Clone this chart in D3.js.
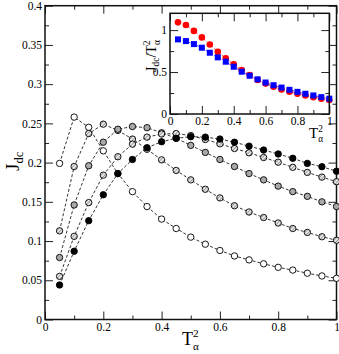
<!DOCTYPE html>
<html>
<head>
<meta charset="utf-8">
<script src="https://cdn.jsdelivr.net/npm/d3@7"></script>
<style>
  body { margin: 0; background: #fff; }
  svg text { font-family: "Liberation Serif", "Times New Roman", serif; fill: #000; }
</style>
</head>
<body>
<svg id="chart"></svg>
<script>
// T_alpha^2 values shared by every series
var t2 = [0.05, 0.1, 0.15, 0.2, 0.25, 0.3, 0.35, 0.4, 0.45, 0.5, 0.55, 0.6, 0.65, 0.7, 0.75, 0.8, 0.85, 0.9, 0.95, 1];

// main panel, J_dc
var jdcOpen  = [0.199, 0.258, 0.245, 0.215, 0.186, 0.163, 0.144, 0.128, 0.116, 0.105, 0.096, 0.088, 0.081, 0.076, 0.071, 0.0665, 0.063, 0.059, 0.0555, 0.0525];
var jdcLight = [0.113, 0.195, 0.237, 0.249, 0.241, 0.230, 0.217, 0.2035, 0.190, 0.178, 0.166, 0.155, 0.145, 0.137, 0.130, 0.123, 0.116, 0.111, 0.1055, 0.101];
var jdcGrey  = [0.079, 0.146, 0.196, 0.226, 0.2425, 0.246, 0.2445, 0.238, 0.231, 0.222, 0.213, 0.204, 0.195, 0.186, 0.178, 0.170, 0.163, 0.157, 0.150, 0.144];
var jdcHatch = [0.055, 0.106, 0.149, 0.184, 0.2075, 0.2235, 0.2325, 0.2365, 0.237, 0.2345, 0.2295, 0.224, 0.218, 0.2125, 0.2065, 0.2005, 0.194, 0.1875, 0.1815, 0.1757];
var jdcBlack = [0.044, 0.087, 0.126, 0.159, 0.186, 0.204, 0.219, 0.2266, 0.231, 0.233, 0.2325, 0.230, 0.226, 0.221, 0.216, 0.211, 0.2055, 0.199, 0.1948, 0.189];

// inset, J_dc / T_alpha^2
var ratioRed  = [1.092, 1.06, 0.99, 0.913, 0.829, 0.742, 0.663, 0.591, 0.524, 0.464, 0.405, 0.362, 0.325, 0.293, 0.266, 0.242, 0.220, 0.200, 0.182, 0.167];
var ratioBlue = [0.889, 0.869, 0.833, 0.790, 0.730, 0.675, 0.623, 0.563, 0.504, 0.456, 0.413, 0.375, 0.343, 0.315, 0.288, 0.264, 0.241, 0.221, 0.201, 0.183];

// tick labels
var mainXTicks  = [0, 0.2, 0.4, 0.6, 0.8, 1];
var mainYTicks  = [0, 0.05, 0.1, 0.15, 0.2, 0.25, 0.3, 0.35, 0.4];
var insetXTicks = [0, 0.2, 0.4, 0.6, 0.8, 1];
var insetYTicks = [0, 0.5, 1];

var W = 339, H = 354;
var svg = d3.select('#chart').attr('width', W).attr('height', H);

// hatch fill for the patterned markers
var defs = svg.append('defs');
var hatch = defs.append('pattern')
  .attr('id', 'hatch')
  .attr('patternUnits', 'userSpaceOnUse')
  .attr('width', 2.6).attr('height', 2.6)
  .attr('patternTransform', 'rotate(45)');
hatch.append('rect').attr('width', 2.6).attr('height', 2.6).attr('fill', '#e8e8e8');
hatch.append('line').attr('x1', 0).attr('y1', 0).attr('x2', 0).attr('y2', 2.6)
  .attr('stroke', '#666').attr('stroke-width', 1.1);

/**
 * frame with inward ticks on all four sides
 */
var drawFrame = (g, x, y, opt) => {
  var [x0, x1] = x.range();
  var [y0, y1] = y.range();
  var fmt = d => String(d);
  var strip = s => s.select('.domain').remove();

  g.append('g').attr('transform', `translate(0,${ y0 })`)
    .call(d3.axisBottom(x).tickValues(opt.xTicks).tickSize(-opt.major).tickPadding(3).tickFormat(fmt))
    .call(strip);
  g.append('g').attr('transform', `translate(0,${ y0 })`)
    .call(d3.axisBottom(x).tickValues(opt.xMinor).tickSize(-opt.minor).tickFormat(''))
    .call(strip);
  g.append('g').attr('transform', `translate(0,${ y1 })`)
    .call(d3.axisTop(x).tickValues(opt.xTicks).tickSize(-opt.major).tickFormat(''))
    .call(strip);
  g.append('g').attr('transform', `translate(0,${ y1 })`)
    .call(d3.axisTop(x).tickValues(opt.xMinor).tickSize(-opt.minor).tickFormat(''))
    .call(strip);

  g.append('g').attr('transform', `translate(${ x0 },0)`)
    .call(d3.axisLeft(y).tickValues(opt.yTicks).tickSize(-opt.major).tickPadding(3).tickFormat(fmt))
    .call(strip);
  g.append('g').attr('transform', `translate(${ x0 },0)`)
    .call(d3.axisLeft(y).tickValues(opt.yMinor).tickSize(-opt.minor).tickFormat(''))
    .call(strip);
  g.append('g').attr('transform', `translate(${ x1 },0)`)
    .call(d3.axisRight(y).tickValues(opt.yTicks).tickSize(-opt.major).tickFormat(''))
    .call(strip);
  g.append('g').attr('transform', `translate(${ x1 },0)`)
    .call(d3.axisRight(y).tickValues(opt.yMinor).tickSize(-opt.minor).tickFormat(''))
    .call(strip);

  g.selectAll('.tick line').attr('stroke', '#222');
  g.selectAll('.tick text').attr('font-size', opt.fontSize);

  g.append('rect')
    .attr('x', x0).attr('y', y1)
    .attr('width', x1 - x0).attr('height', y0 - y1)
    .attr('fill', 'none').attr('stroke', '#111').attr('stroke-width', 1.5);
};

// T_alpha^2 label: T with 2 above alpha
var tLabel = (g, px, py, size) => {
  var t = g.append('text').attr('x', px).attr('y', py).attr('font-size', size);
  t.append('tspan').text('T');
  t.append('tspan').attr('font-size', size * 0.62).attr('dy', -size * 0.42).text('2');
  t.append('tspan').attr('font-size', size * 0.62).attr('dx', -size * 0.31).attr('dy', size * 0.68).text('α');
};

/**
 * main panel
 */
var x = d3.scaleLinear().domain([0, 1]).range([45, 336.5]);
var y = d3.scaleLinear().domain([0, 0.4]).range([319.5, 5.7]);

var mainSeries = [
  { values: jdcOpen,  fill: '#fff' },
  { values: jdcLight, fill: 'url(#hatch)' },
  { values: jdcGrey,  fill: '#a9a9a9' },
  { values: jdcHatch, fill: 'url(#hatch)' },
  { values: jdcBlack, fill: '#000' }
];

var main = svg.append('g').attr('class', 'main');
drawFrame(main, x, y, {
  xTicks: mainXTicks, xMinor: d3.range(0.1, 1, 0.2),
  yTicks: mainYTicks, yMinor: d3.range(0.025, 0.4, 0.05),
  major: 8, minor: 4, fontSize: 11.5
});

var line = d3.line().x((d, i) => x(t2[i])).y(d => y(d));

var plot = main.append('g').attr('class', 'series');
mainSeries.forEach(s => {
  plot.append('path')
    .attr('d', line(s.values))
    .attr('fill', 'none')
    .attr('stroke', '#000')
    .attr('stroke-width', 0.8)
    .attr('stroke-dasharray', '3,2');
});
mainSeries.forEach(s => {
  plot.selectAll(null)
    .data(s.values)
    .enter().append('circle')
      .attr('cx', (d, i) => x(t2[i]))
      .attr('cy', d => y(d))
      .attr('r', 3.2)
      .attr('fill', s.fill)
      .attr('stroke', '#000')
      .attr('stroke-width', 0.9);
});

// axis titles
var yt = main.append('text')
  .attr('transform', 'translate(19,171) rotate(-90)')
  .attr('font-size', 19);
yt.append('tspan').text('J');
yt.append('tspan').attr('font-size', 12.5).attr('dy', 4).text('dc');

tLabel(main, 182, 345, 18);

/**
 * inset
 */
var xi = d3.scaleLinear().domain([0, 1]).range([170, 329.3]);
var yi = d3.scaleLinear().domain([0, 1.2]).range([114, 13.3]);

var inset = svg.append('g').attr('class', 'inset');
inset.append('rect')
  .attr('x', 170).attr('y', 13.3)
  .attr('width', 159.3).attr('height', 100.7)
  .attr('fill', '#fff');

var lineI = d3.line().x((d, i) => xi(t2[i])).y(d => yi(d));

inset.append('path').attr('d', lineI(ratioRed))
  .attr('fill', 'none').attr('stroke', '#f00').attr('stroke-width', 0.7).attr('stroke-dasharray', '3,2');
inset.append('path').attr('d', lineI(ratioBlue))
  .attr('fill', 'none').attr('stroke', '#00f').attr('stroke-width', 0.7).attr('stroke-dasharray', '3,2');

inset.selectAll('circle.red')
  .data(ratioRed)
  .enter().append('circle')
    .attr('class', 'red')
    .attr('cx', (d, i) => xi(t2[i]))
    .attr('cy', d => yi(d))
    .attr('r', 3.3)
    .attr('fill', '#f00');

inset.selectAll('rect.blue')
  .data(ratioBlue)
  .enter().append('rect')
    .attr('class', 'blue')
    .attr('x', (d, i) => xi(t2[i]) - 3)
    .attr('y', d => yi(d) - 3)
    .attr('width', 6).attr('height', 6)
    .attr('fill', '#00f');

drawFrame(inset, xi, yi, {
  xTicks: insetXTicks, xMinor: d3.range(0.1, 1, 0.2),
  yTicks: insetYTicks, yMinor: [0.25, 0.75],
  major: 8, minor: 4, fontSize: 11.5
});

var yti = inset.append('text')
  .attr('transform', 'translate(156,72) rotate(-90)')
  .attr('font-size', 14);
yti.append('tspan').text('J');
yti.append('tspan').attr('font-size', 9.5).attr('dy', 3).text('dc');
yti.append('tspan').attr('dy', -3).text('/T');
yti.append('tspan').attr('font-size', 9.5).attr('dy', -6).text('2');
yti.append('tspan').attr('font-size', 9.5).attr('dx', -4.5).attr('dy', 10).text('α');

tLabel(inset, 309, 138, 15);
</script>
</body>
</html>
